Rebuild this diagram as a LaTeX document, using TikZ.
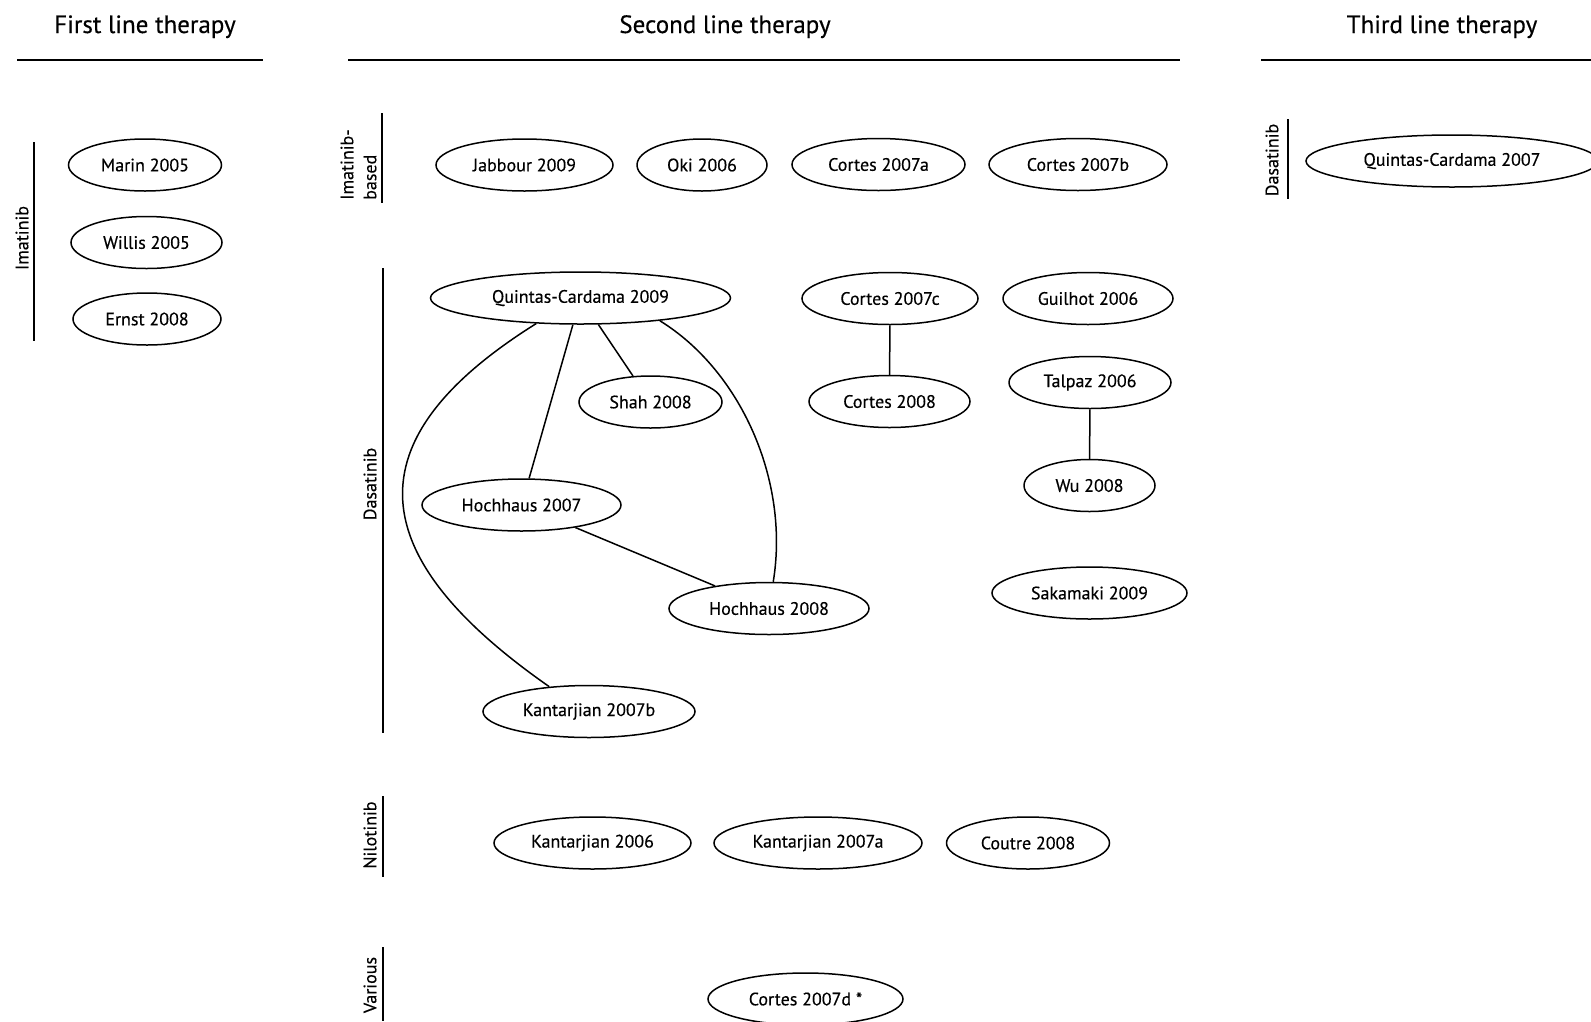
\documentclass[tikz,border=0pt]{standalone}
\usepackage{fontspec}
\setmainfont{PT Sans}[FakeBold=0.35]
\usetikzlibrary{shapes.geometric}
\begin{document}
\begin{tikzpicture}[x=1pt,y=-1pt,
  study/.style={draw, ellipse, line width=1.5pt, inner sep=0pt, minimum height=52pt, font=\fontsize{18}{20}\selectfont},
  rulex/.style={line width=1.6pt},
  bar/.style={line width=1.5pt},
  title/.style={font=\fontsize{25}{28}\selectfont, inner sep=0pt, anchor=base},
  glabel/.style={rotate=90, font=\fontsize{18}{23}\selectfont, inner sep=0pt},
  link/.style={line width=1.5pt}]
\useasboundingbox (0,0) rectangle (1591,1021);

% titles
\node[title] (t1) at (145,33) {First line therapy};
\node[title] (t2) at (725,33) {Second line therapy};
\node[title] (t3) at (1442,33) {Third line therapy};
\draw[rulex] (17,60) -- (263,60);
\draw[rulex] (348,60) -- (1180,60);
\draw[rulex] (1261,60) -- (1591,60);

% group bars and labels
\draw[bar] (34,142) -- (34,341);
\node[glabel] (g1) at (22,238) {Imatinib};
\draw[bar] (382,113) -- (382,203);
\node[glabel, align=left, anchor=west] (g2) at (358.5,200) {Imatinib-\\based};
\draw[bar] (383,268) -- (383,733);
\node[glabel] (g3) at (370,484) {Dasatinib};
\draw[bar] (383,796) -- (383,877);
\node[glabel] (g4) at (370,835) {Nilotinib};
\draw[bar] (383,947) -- (383,1021);
\node[glabel] (g5) at (370,985) {Various};
\draw[bar] (1288,119) -- (1288,199);
\node[glabel] (g6) at (1272,160) {Dasatinib};

% first line
\node[study, minimum width=153pt] (marin) at (145,165) {Marin 2005};
\node[study, minimum width=151pt] (willis) at (146.5,242.5) {Willis 2005};
\node[study, minimum width=148pt] (ernst) at (147,319) {Ernst 2008};

% second line, imatinib-based
\node[study, minimum width=177pt] (jab) at (524.5,165) {Jabbour 2009};
\node[study, minimum width=130pt] (oki) at (702,165) {Oki 2006};
\node[study, minimum width=173pt] (c07a) at (878.5,164.5) {Cortes 2007a};
\node[study, minimum width=178pt] (c07b) at (1078,164.5) {Cortes 2007b};

% second line, dasatinib
\node[study, minimum width=300pt] (q09) at (580.5,298) {Quintas-Cardama 2009};
\node[study, minimum width=143pt] (shah) at (650.5,402) {Shah 2008};
\node[study, minimum width=199pt] (h07) at (521.5,505) {Hochhaus 2007};
\node[study, minimum width=200pt] (h08) at (769,608.5) {Hochhaus 2008};
\node[study, minimum width=212pt] (k07b) at (589,711.5) {Kantarjian 2007b};
\node[study, minimum width=176pt] (c07c) at (890,298.5) {Cortes 2007c};
\node[study, minimum width=161pt] (c08) at (889.5,401.5) {Cortes 2008};
\node[study, minimum width=170pt] (guil) at (1088,298.5) {Guilhot 2006};
\node[study, minimum width=162pt] (talp) at (1090,382.5) {Talpaz 2006};
\node[study, minimum width=131pt] (wu) at (1089.5,485.5) {Wu 2008};
\node[study, minimum width=195pt] (saka) at (1089.5,593) {Sakamaki 2009};

% second line, nilotinib
\node[study, minimum width=197pt] (k06) at (592.5,843) {Kantarjian 2006};
\node[study, minimum width=208pt] (k07a) at (818,843) {Kantarjian 2007a};
\node[study, minimum width=163pt] (cout) at (1028,843) {Coutre 2008};

% second line, various
\node[study, minimum width=195pt] (c07d) at (805.5,999) {Cortes 2007d *};

% third line
\node[study, minimum width=292pt] (q07) at (1452,161) {Quintas-Cardama 2007};

% links
\draw[link] (q09) -- (shah);
\draw[link] (q09) -- (h07);
\draw[link] (h07) -- (h08);
\draw[link] (q09.344.5) .. controls (740,370) and (790,480) .. (h08.81);
\draw[link] (q09.210.4) .. controls (350,440) and (362,556) .. (k07b.148);
\draw[link] (c07c) -- (c08);
\draw[link] (talp) -- (wu);
\end{tikzpicture}
\end{document}
